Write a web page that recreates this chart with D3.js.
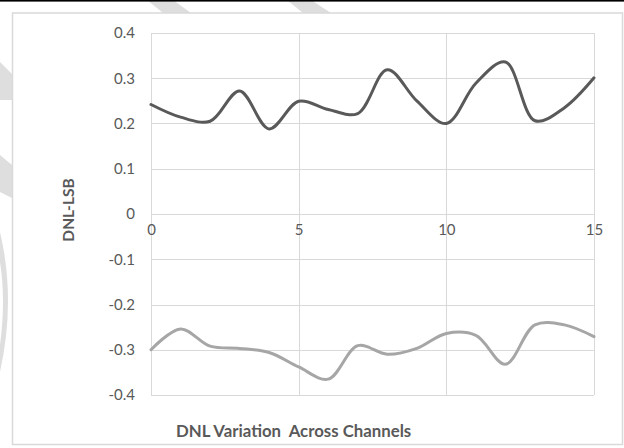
<!DOCTYPE html>
<html>
<head>
<meta charset="utf-8">
<script src="https://cdn.jsdelivr.net/npm/d3@7/dist/d3.min.js"></script>
<style>
  html, body { margin: 0; padding: 0; background: #fff; }
  svg { display: block; }
</style>
</head>
<body>
<svg id="chart" width="624" height="448"></svg>
<script>
// ---- data ----
const channels = [0,1,2,3,4,5,6,7,8,9,10,11,12,13,14,15];
const dnlMax = [0.242,0.214,0.205,0.272,0.188,0.249,0.231,0.222,0.319,0.250,0.200,0.289,0.336,0.206,0.235,0.301];
const dnlMin = [-0.300,-0.254,-0.292,-0.297,-0.306,-0.338,-0.365,-0.291,-0.310,-0.297,-0.264,-0.268,-0.332,-0.245,-0.245,-0.271];
const yTicks = [-0.4,-0.3,-0.2,-0.1,0,0.1,0.2,0.3,0.4];
const yTickLabels = ["-0.4","-0.3","-0.2","-0.1","0","0.1","0.2","0.3","0.4"];
const xTicks = [0,5,10,15];
const xTickLabels = ["0","5","10","15"];
const yTitle = "DNL-LSB";
const xTitle = "DNL Variation  Across Channels";

const svg = d3.select("#chart");
const W = 624, H = 448;
const FONT = "Lato, 'Open Sans', 'DejaVu Sans', sans-serif";
const TXT = "#595959", GRID = "#d9d9d9";

// ---- background watermark fragments (decorative) ----
const wm = svg.append("g").attr("fill", "#dedede");
wm.append("path").attr("d", "M147,0 L173,0 L191,13 L163,13 Z");
wm.append("path").attr("d", "M287,0 L311,0 L331,13 L303,13 Z");
wm.append("path").attr("d", "M0,62 L12,74 L12,100 L0,100 Z");
wm.append("path").attr("d", "M0,155 L12,165 L12,198 L0,192 Z");
wm.append("path").attr("d", "M0,232 Q16,300 0,372 L0,345 Q6,300 0,262 Z");

// top black rule
svg.append("rect").attr("x", 0).attr("y", 0).attr("width", W).attr("height", 1.6).attr("fill", "#000");

// chart frame
svg.append("rect")
  .attr("x", 12.5).attr("y", 13).attr("width", 610).attr("height", 431.5)
  .attr("fill", "#fff").attr("stroke", GRID).attr("stroke-width", 1.5);

// ---- scales ----
const x = d3.scaleLinear().domain([0, 15]).range([151, 594]);
const y = d3.scaleLinear().domain([-0.4, 0.4]).range([395, 33]);

// gridlines
const grid = svg.append("g");
grid.selectAll("line.h").data(yTicks).join("line")
  .attr("x1", x(0)).attr("x2", x(15))
  .attr("y1", d => Math.round(y(d)) + 0.5).attr("y2", d => Math.round(y(d)) + 0.5)
  .attr("stroke", GRID).attr("stroke-width", 1);
grid.selectAll("line.v").data(xTicks).join("line")
  .attr("y1", y(0.4)).attr("y2", y(-0.4))
  .attr("x1", d => Math.round(x(d)) + 0.5).attr("x2", d => Math.round(x(d)) + 0.5)
  .attr("stroke", GRID).attr("stroke-width", 1);

// y axis labels
const yAxis = d3.axisLeft(y).tickValues(yTicks).tickSize(0).tickPadding(16)
  .tickFormat((d, i) => yTickLabels[i]);
const gy = svg.append("g").attr("transform", `translate(${x(0)},0)`).call(yAxis);
gy.select(".domain").remove();
gy.selectAll("text").attr("fill", TXT).style("font-family", FONT).style("font-size", "15px");

// x axis labels at zero line
const xAxis = d3.axisBottom(x).tickValues(xTicks).tickSize(0).tickPadding(10)
  .tickFormat((d, i) => xTickLabels[i]);
const gx = svg.append("g").attr("transform", `translate(0,${y(0)})`).call(xAxis);
gx.select(".domain").remove();
gx.selectAll("text").attr("fill", TXT).style("font-family", FONT).style("font-size", "15px");

// lines
const line = d3.line().x((d, i) => x(channels[i])).y(d => y(d)).curve(d3.curveCatmullRom.alpha(0.5));
svg.append("path").datum(dnlMax).attr("d", line)
  .attr("fill", "none").attr("stroke", "#595959").attr("stroke-width", 3).attr("stroke-linecap", "round");
svg.append("path").datum(dnlMin).attr("d", line)
  .attr("fill", "none").attr("stroke", "#a6a6a6").attr("stroke-width", 3).attr("stroke-linecap", "round");

// titles
svg.append("text")
  .attr("transform", `translate(74,210) rotate(-90)`)
  .attr("text-anchor", "middle")
  .attr("fill", TXT).style("font-family", FONT).style("font-weight", "bold").style("font-size", "15.5px")
  .text(yTitle);
svg.append("text")
  .attr("x", 176).attr("y", 437)
  .attr("fill", TXT).style("font-family", FONT).style("font-weight", "bold").style("font-size", "16.8px")
  .style("white-space", "pre").attr("xml:space", "preserve")
  .text(xTitle);
</script>
</body>
</html>
